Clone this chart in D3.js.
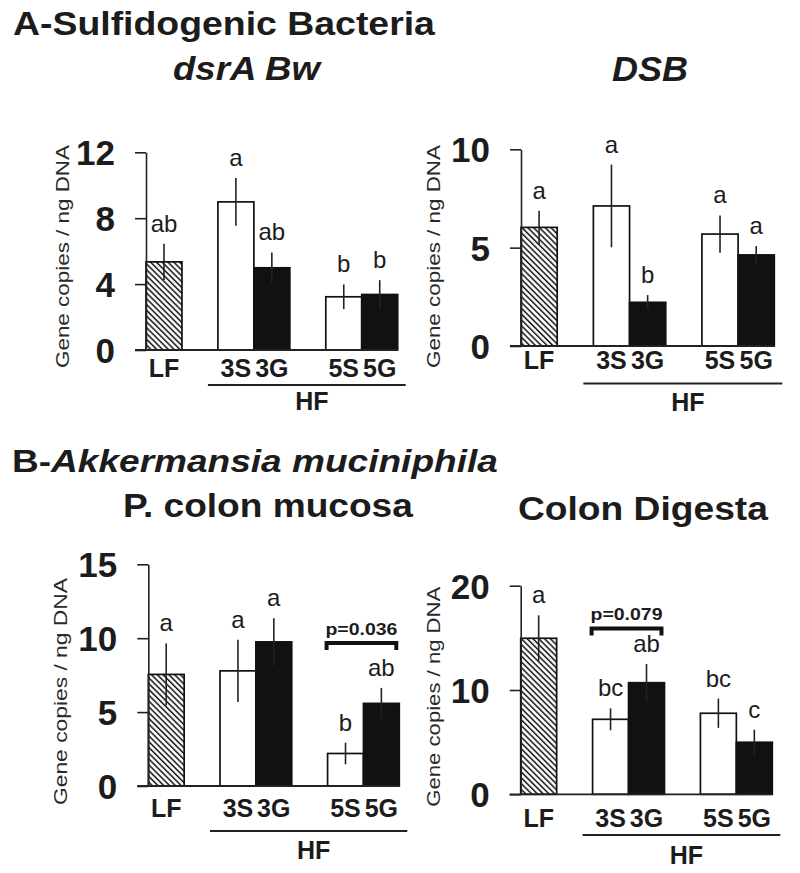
<!DOCTYPE html>
<html>
<head>
<meta charset="utf-8">
<script src="https://cdn.jsdelivr.net/npm/d3@7/dist/d3.min.js"></script>
<style>
  html, body { margin: 0; padding: 0; background: #fff; }
  svg text { font-family: "Liberation Sans", Arial, Helvetica, sans-serif; }
</style>
</head>
<body>
<svg id="chart" width="800" height="873"></svg>
<script>
// ---------------- data ----------------
const categories = ["LF", "3S", "3G", "5S", "5G"];
const slots = ["LF", "gap1", "3S", "3G", "gap2", "5S", "5G"];
const barStyles = ["hatch", "open", "solid", "open", "solid"];
const groupLabel = "HF";
const yAxisLabel = "Gene copies / ng DNA";

const sectionA = "A-Sulfidogenic Bacteria";
const sectionBPrefix = "B-";
const sectionBItalic = "Akkermansia muciniphila";

// dsrA Bw
const dsrTitle = "dsrA Bw";
const dsrMeans = [5.35, 8.99, 4.99, 3.23, 3.37];
const dsrSE = [1.1, 1.45, 0.93, 0.75, 0.87];
const dsrLetters = ["ab", "a", "ab", "b", "b"];
const dsrTicks = [0, 4, 8, 12];

// DSB
const dsbTitle = "DSB";
const dsbMeans = [6.03, 7.12, 2.22, 5.69, 4.63];
const dsbSE = [0.85, 2.1, 0.37, 0.95, 0.45];
const dsbLetters = ["a", "a", "b", "a", "a"];
const dsbTicks = [0, 5, 10];

// P. colon mucosa
const mucTitle = "P. colon mucosa";
const mucMeans = [7.55, 7.79, 9.75, 2.2, 5.59];
const mucSE = [2.1, 2.1, 1.6, 0.73, 1.05];
const mucLetters = ["a", "a", "a", "b", "ab"];
const mucTicks = [0, 5, 10, 15];
const mucBracket = { from: "5S", to: "5G", label: "p=0.036", y: 9.67 };

// Colon Digesta
const digTitle = "Colon Digesta";
const digMeans = [14.96, 7.19, 10.7, 7.77, 4.99];
const digSE = [2.2, 1.05, 1.8, 1.4, 1.2];
const digLetters = ["a", "bc", "ab", "bc", "c"];
const digTicks = [0, 10, 20];
const digBracket = { from: "3S", to: "3G", label: "p=0.079", y: 15.9 };

// ---------------- layout ----------------
const panels = [
  { means: dsrMeans, se: dsrSE, letters: dsrLetters, ticks: dsrTicks, bracket: null,
    axisX: 146, xEnd: 397.7, yTop: 152.3, y0: 350, catY: 376.7, hfY: 385, hfTextY: 410,
    ylabX: 62, ylabY: 256.5, ylabLen: 223 },
  { means: dsbMeans, se: dsbSE, letters: dsbLetters, ticks: dsbTicks, bracket: null,
    axisX: 521, xEnd: 774.3, yTop: 149.3, y0: 346, catY: 368.5, hfY: 383.5, hfTextY: 411,
    ylabX: 433, ylabY: 256.5, ylabLen: 223 },
  { means: mucMeans, se: mucSE, letters: mucLetters, ticks: mucTicks, bracket: mucBracket,
    axisX: 148.3, xEnd: 399.3, yTop: 564.3, y0: 786, catY: 816.7, hfY: 831, hfTextY: 858.5,
    ylabX: 60, ylabY: 691.5, ylabLen: 227 },
  { means: digMeans, se: digSE, letters: digLetters, ticks: digTicks, bracket: digBracket,
    axisX: 520.7, xEnd: 772.3, yTop: 585.7, y0: 794.3, catY: 826.7, hfY: 835, hfTextY: 863.5,
    ylabX: 433, ylabY: 696.7, ylabLen: 220 }
];

const ink = "#1c1c1c";
const svg = d3.select("#chart");

// hatch pattern
const defs = svg.append("defs");
const pat = defs.append("pattern")
  .attr("id", "hatch")
  .attr("patternUnits", "userSpaceOnUse")
  .attr("width", 8).attr("height", 4.1)
  .attr("patternTransform", "rotate(45)");
pat.append("rect").attr("width", 8).attr("height", 4.1).attr("fill", "#fff");
pat.append("line").attr("x1", 0).attr("x2", 8).attr("y1", 1).attr("y2", 1)
  .attr("stroke", "#111").attr("stroke-width", 1.5);

function fitWidth(sel, cx, target) {
  const w = sel.node().getComputedTextLength();
  const s = target / w;
  sel.attr("transform", `translate(${cx},0) scale(${s},1) translate(${-cx},0)`);
}

// ---------------- titles ----------------
const tA = svg.append("text").attr("x", 13).attr("y", 35)
  .attr("font-size", 33).attr("font-weight", "bold").attr("fill", ink).text(sectionA);
fitWidth(tA, 13, 422);

const t1 = svg.append("text").attr("x", 173).attr("y", 80)
  .attr("font-size", 34).attr("font-weight", "bold").attr("font-style", "italic")
  .attr("fill", ink).text(dsrTitle);
fitWidth(t1, 173, 147);

const t2 = svg.append("text").attr("x", 612).attr("y", 81.5)
  .attr("font-size", 35).attr("font-weight", "bold").attr("font-style", "italic")
  .attr("fill", ink).text(dsbTitle);
fitWidth(t2, 612, 76);

const tB = svg.append("text").attr("x", 12).attr("y", 472)
  .attr("font-size", 32).attr("font-weight", "bold").attr("fill", ink);
tB.append("tspan").text(sectionBPrefix);
tB.append("tspan").attr("font-style", "italic").text(sectionBItalic);
fitWidth(tB, 12, 486);

const t3 = svg.append("text").attr("x", 123).attr("y", 517.5)
  .attr("font-size", 33).attr("font-weight", "bold").attr("fill", ink).text(mucTitle);
fitWidth(t3, 123, 290);

const t4 = svg.append("text").attr("x", 518).attr("y", 520)
  .attr("font-size", 33).attr("font-weight", "bold").attr("fill", ink).text(digTitle);
fitWidth(t4, 518, 250);

// ---------------- panels ----------------
panels.forEach(p => {
  const g = svg.append("g");
  const x = d3.scaleBand().domain(slots).range([p.axisX, p.xEnd]).paddingInner(0).paddingOuter(0);
  const y = d3.scaleLinear().domain([0, d3.max(p.ticks)]).range([p.y0, p.yTop]);
  const bw = x.bandwidth();

  const rows = categories.map((c, i) => ({ cat: c, mean: p.means[i], se: p.se[i], letter: p.letters[i], style: barStyles[i] }));

  // bars
  g.selectAll("rect.bar").data(rows).join("rect")
    .attr("class", "bar")
    .attr("x", d => x(d.cat))
    .attr("y", d => y(d.mean))
    .attr("width", bw)
    .attr("height", d => y(0) - y(d.mean))
    .attr("fill", d => d.style === "hatch" ? "url(#hatch)" : d.style === "solid" ? "#111" : "#fff")
    .attr("stroke", "#111")
    .attr("stroke-width", 1.7);

  // error bars
  g.selectAll("line.err").data(rows).join("line")
    .attr("class", "err")
    .attr("x1", d => x(d.cat) + bw / 2).attr("x2", d => x(d.cat) + bw / 2)
    .attr("y1", d => y(d.mean - d.se)).attr("y2", d => y(d.mean + d.se))
    .attr("stroke", "#222").attr("stroke-width", 1.6);

  // significance letters
  g.selectAll("text.letter").data(rows).join("text")
    .attr("class", "letter")
    .attr("x", d => x(d.cat) + bw / 2)
    .attr("y", d => y(d.mean + d.se) - 12)
    .attr("text-anchor", "middle")
    .attr("font-size", 24)
    .attr("fill", ink)
    .text(d => d.letter);

  // y axis
  const ax = g.append("g").attr("transform", `translate(${p.axisX},0)`)
    .call(d3.axisLeft(y).tickValues(p.ticks).tickSize(11).tickSizeOuter(0).tickPadding(20).tickFormat(d3.format("d")));
  ax.select(".domain").attr("stroke", "#222").attr("stroke-width", 1.6);
  ax.selectAll(".tick line").attr("stroke", "#222").attr("stroke-width", 1.6);
  ax.selectAll(".tick text")
    .attr("font-size", 35).attr("font-weight", "bold").attr("fill", ink)
    .attr("font-family", "'Liberation Sans', Arial, sans-serif")
    .attr("dy", "0.36em");

  // baseline
  g.append("line")
    .attr("x1", p.axisX - 11).attr("x2", p.xEnd)
    .attr("y1", y(0)).attr("y2", y(0))
    .attr("stroke", "#222").attr("stroke-width", 1.8);

  // category labels
  g.selectAll("text.cat").data(rows).join("text")
    .attr("class", "cat")
    .attr("x", d => x(d.cat) + bw / 2)
    .attr("y", p.catY)
    .attr("text-anchor", "middle")
    .attr("font-size", 25).attr("font-weight", "bold").attr("fill", ink)
    .text(d => d.cat);

  // HF group line
  const hx0 = x("3S") - 10, hx1 = x("5G") + bw + 8;
  g.append("line").attr("x1", hx0).attr("x2", hx1).attr("y1", p.hfY).attr("y2", p.hfY)
    .attr("stroke", "#222").attr("stroke-width", 2);
  g.append("text").attr("x", (hx0 + hx1) / 2 + 5).attr("y", p.hfTextY)
    .attr("text-anchor", "middle").attr("font-size", 25).attr("font-weight", "bold")
    .attr("fill", ink).text(groupLabel);

  // y axis label
  g.append("text")
    .attr("transform", `translate(${p.ylabX},${p.ylabY}) rotate(-90)`)
    .attr("text-anchor", "middle")
    .attr("dy", "0.35em")
    .attr("font-size", 19)
    .attr("textLength", p.ylabLen)
    .attr("lengthAdjust", "spacingAndGlyphs")
    .attr("fill", "#2a2a2a")
    .text(yAxisLabel);

  // bracket
  if (p.bracket) {
    const b = p.bracket;
    const bx0 = x(b.from) - 1, bx1 = x(b.to) + bw - 3, by = y(b.y);
    g.append("path")
      .attr("d", `M${bx0},${by + 7}V${by}H${bx1}V${by + 7}`)
      .attr("fill", "none").attr("stroke", "#111").attr("stroke-width", 4);
    const bt = g.append("text").attr("x", (bx0 + bx1) / 2).attr("y", by - 8)
      .attr("text-anchor", "middle").attr("font-size", 16).attr("font-weight", "bold")
      .attr("fill", ink).text(b.label);
    fitWidth(bt, (bx0 + bx1) / 2, 72);
  }
});
</script>
</body>
</html>
